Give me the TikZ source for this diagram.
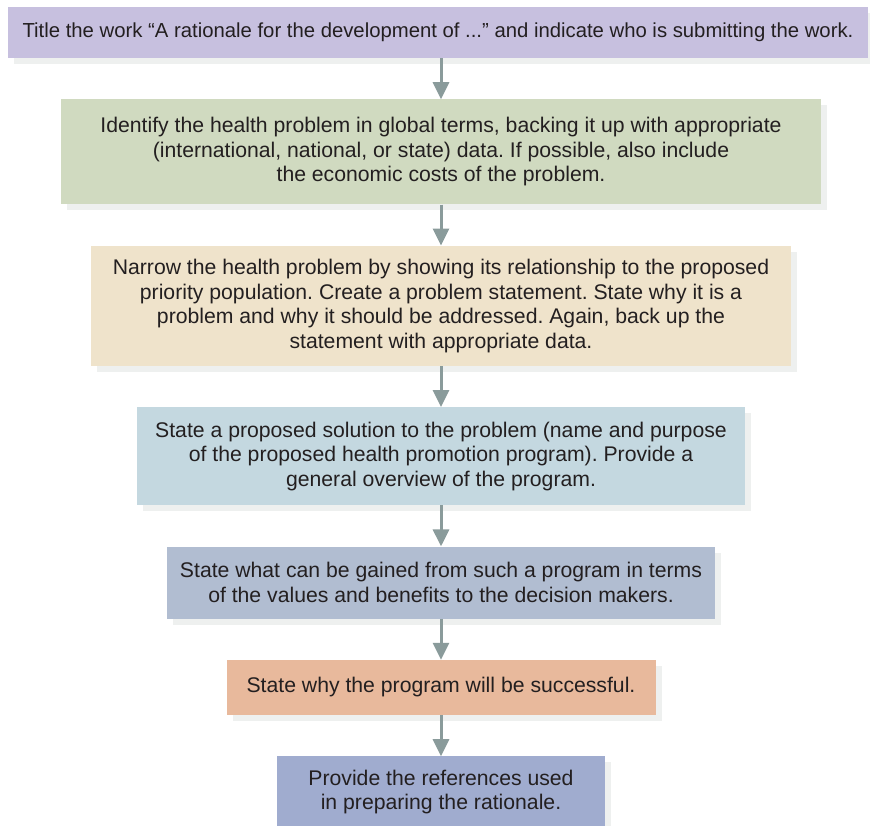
\documentclass[tikz,border=0pt]{standalone}
\usepackage{fontspec}
\setmainfont{Liberation Sans}
\usetikzlibrary{positioning,arrows.meta,shadows}
\definecolor{titlepurple}{HTML}{C7C0DF}
\definecolor{problemgreen}{HTML}{D0DAC0}
\definecolor{narrowbeige}{HTML}{EFE3CB}
\definecolor{solutionblue}{HTML}{C4D8E0}
\definecolor{gainsgray}{HTML}{B1BDD1}
\definecolor{successorange}{HTML}{E8B99C}
\definecolor{refsblue}{HTML}{A0ACCF}
\definecolor{shadowgray}{HTML}{EEF0EF}
\definecolor{arrowgray}{HTML}{8A9B9B}
\definecolor{textgray}{HTML}{231F20}
\frenchspacing
\tikzset{>={Triangle[width=16pt,length=17pt]}}
\tikzset{stepbox/.style={rectangle, align=center, inner sep=0pt, text=textgray,
    font=\fontsize{21.2}{24.5}\selectfont,
    drop shadow={shadow xshift=6pt, shadow yshift=-6pt, fill=shadowgray, opacity=1}}}

\begin{document}
\begin{tikzpicture}[node distance=41pt, x=1pt, y=1pt]
    \useasboundingbox (0,0) rectangle (870,-825);
    \node[stepbox, fill=titlepurple, minimum width=860pt, minimum height=51pt,
          font=\fontsize{20.3}{24.5}\selectfont] (title) at (438,-32.5)
        {Title the work “A rationale for the development of ...” and indicate who is submitting the work.};
    \node[stepbox, fill=problemgreen, minimum width=760pt, minimum height=105pt] (problem) [below=of title, xshift=3pt]
        {Identify the health problem in global terms, backing it up with appropriate\\
         (international, national, or state) data. If possible, also include\\
         the economic costs of the problem.};
    \node[stepbox, fill=narrowbeige, minimum width=700pt, minimum height=120pt] (narrow) [below=of problem]
        {Narrow the health problem by showing its relationship to the proposed\\
         priority population. Create a problem statement. State why it is a\\
         problem and why it should be addressed. Again, back up the\\
         statement with appropriate data.};
    \node[stepbox, fill=solutionblue, minimum width=608pt, minimum height=98pt] (solution) [below=of narrow]
        {State a proposed solution to the problem (name and purpose\\
         of the proposed health promotion program). Provide a\\
         general overview of the program.};
    \node[stepbox, fill=gainsgray, minimum width=548pt, minimum height=72pt] (gains) [below=of solution]
        {State what can be gained from such a program in terms\\
         of the values and benefits to the decision makers.};
    \node[stepbox, fill=successorange, minimum width=429pt, minimum height=55pt] (success) [below=of gains]
        {State why the program will be successful.};
    \node[stepbox, fill=refsblue, minimum width=328pt, minimum height=71pt] (references) [below=of success]
        {Provide the references used\\
         in preparing the rationale.};
    \path[->, color=arrowgray, line width=3pt]
        (problem |- title.south) edge (problem)
        (problem) edge (narrow)
        (narrow) edge (solution)
        (solution) edge (gains)
        (gains) edge (success)
        (success) edge (references);
\end{tikzpicture}
\end{document}
